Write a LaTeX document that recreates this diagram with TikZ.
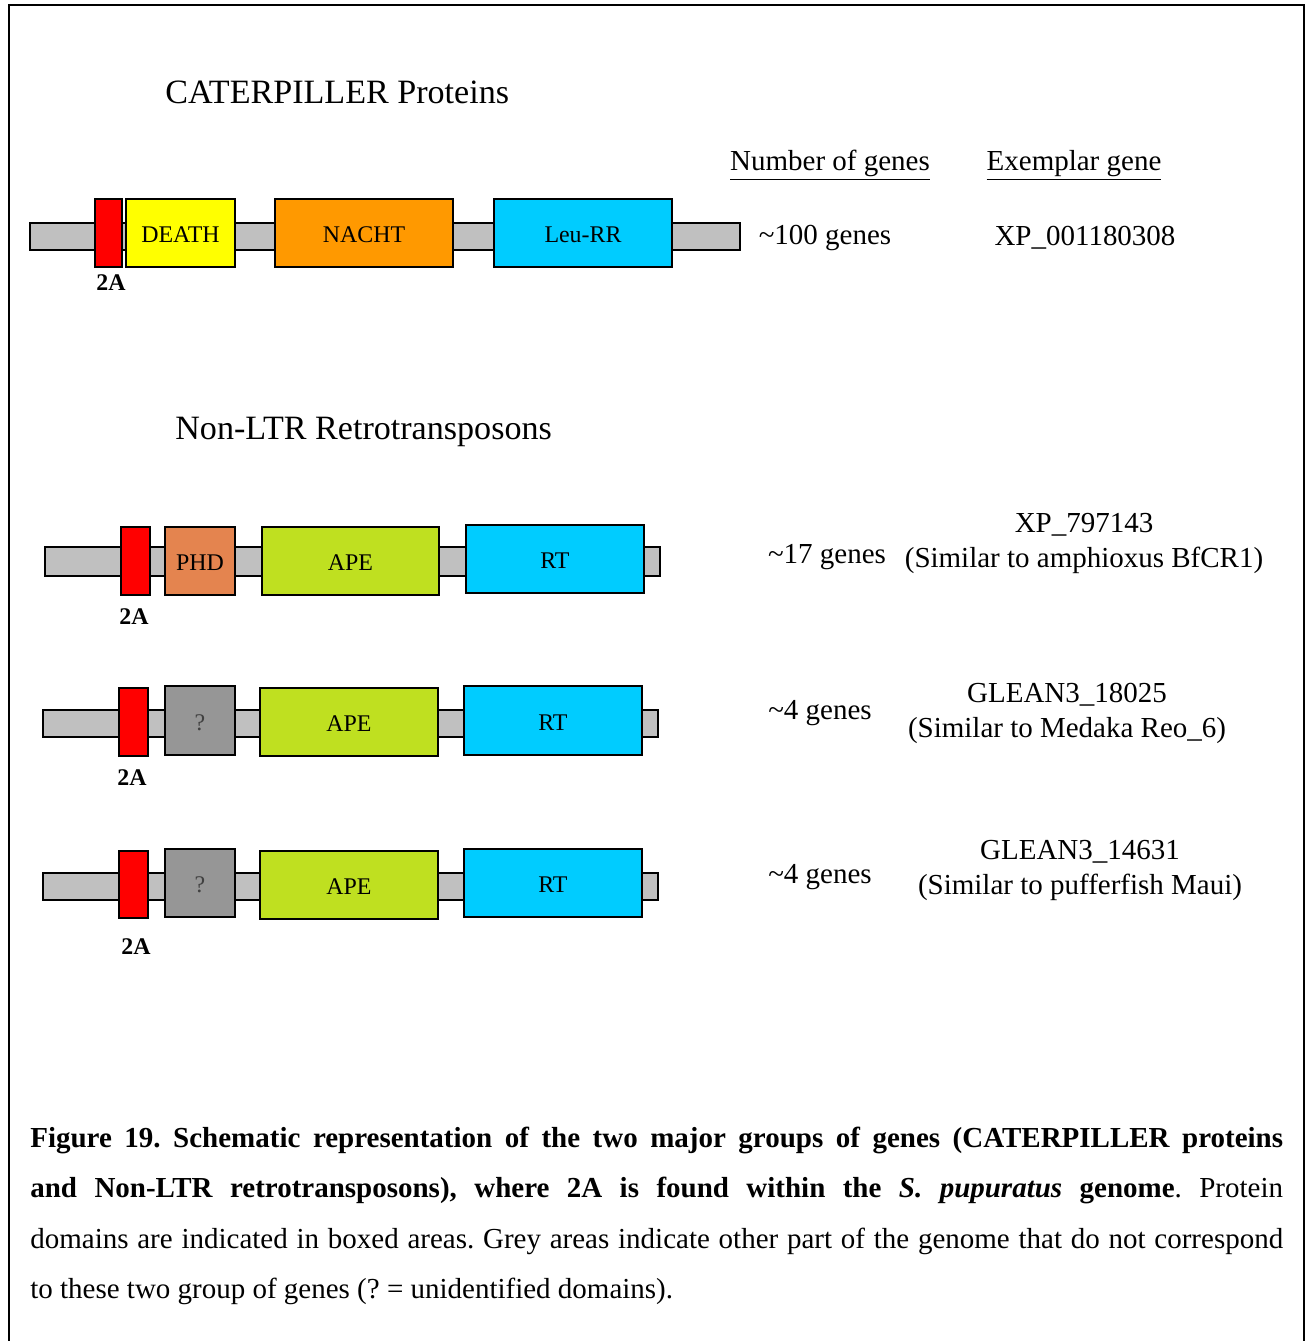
\documentclass[tikz,border=0pt]{standalone}
\usepackage{fontspec}
\setmainfont{Liberation Serif}
\usetikzlibrary{fit}
\definecolor{barg}{HTML}{C0C0C0}
\definecolor{twored}{HTML}{FF0000}
\definecolor{deathy}{HTML}{FFFF00}
\definecolor{nachto}{HTML}{FF9900}
\definecolor{cyanb}{HTML}{00CCFF}
\definecolor{phdc}{HTML}{E4844F}
\definecolor{apec}{HTML}{BFE020}
\definecolor{qgrey}{HTML}{969696}
\frenchspacing
\begin{document}
\begin{tikzpicture}[x=0.02cm,y=-0.02cm,
  dom/.style={draw=black, line width=1.1pt, inner sep=0pt},
  domlabel/.style={anchor=center, inner sep=0pt, yshift=-0.04cm, font=\fontsize{13.6}{16}\selectfont},
  qlabel/.style={domlabel, text=black!75},
  genebar/.style={draw=black, line width=1.1pt, fill=barg, inner sep=0pt},
  twoA/.style={anchor=base, font=\fontsize{13.6}{16}\selectfont\bfseries, inner sep=0pt},
  heading/.style={anchor=base west, font=\fontsize{19.4}{23}\selectfont, inner sep=0pt},
  rtext/.style={anchor=base, font=\fontsize{16.5}{20}\selectfont, inner sep=0pt},
  captxt/.style={anchor=base west, font=\fontsize{16.5}{20}\selectfont, inner sep=0pt}]
\useasboundingbox (0,0) rectangle (1311,1341);
\fill[white] (0,0) rectangle (1311,1341);
\draw[line width=1.5pt] (9,1341) -- (9,5) -- (1304,5) -- (1304,1341);

% headings
\node[heading] (h1) at (165,104) {CATERPILLER Proteins};
\node[heading] (h2) at (175,439) {Non-LTR Retrotransposons};
\node[rtext] (ng) at (830,171) {\underline{Number of genes}};
\node[rtext] (eg) at (1074,171) {\underline{Exemplar gene}};

% row 1
\node[genebar, fit={(30,223) (740,250)}] (bar1) {};
\node[dom, fill=twored, fit={(95,199) (122,267)}] (r1a) {};
\node[dom, fill=deathy, fit={(126,199) (235,267)}] (r1b) {};
\node[dom, fill=nachto, fit={(275,199) (453,267)}] (r1c) {};
\node[dom, fill=cyanb, fit={(494,199) (672,267)}] (r1d) {};
\node[domlabel] (t1b) at (r1b.center) {DEATH};
\node[domlabel] (t1c) at (r1c.center) {NACHT};
\node[domlabel] (t1d) at (r1d.center) {Leu-RR};
\node[twoA] (l1) at (111,291) {2A};
\node[rtext] (n1) at (825,245) {\textasciitilde100 genes};
\node[rtext] (e1) at (1085,246) {XP\_001180308};

% row 2
\node[genebar, fit={(45,547) (660,576)}] (bar2) {};
\node[dom, fill=twored, fit={(121,527) (150,595)}] (r2a) {};
\node[dom, fill=phdc, fit={(165,527) (235,595)}] (r2b) {};
\node[dom, fill=apec, fit={(262,527) (439,595)}] (r2c) {};
\node[dom, fill=cyanb, fit={(466,525) (644,593)}] (r2d) {};
\node[domlabel] (t2b) at (r2b.center) {PHD};
\node[domlabel] (t2c) at (r2c.center) {APE};
\node[domlabel] (t2d) at (r2d.center) {RT};
\node[twoA] (l2) at (134,624) {2A};
\node[rtext] (n2) at (827,563) {\textasciitilde17 genes};
\node[rtext] (e2a) at (1084,532) {XP\_797143};
\node[rtext] (e2b) at (1084,567) {(Similar to amphioxus BfCR1)};

% row 3
\node[genebar, fit={(43,710) (658,737)}] (bar3) {};
\node[dom, fill=twored, fit={(119,688) (148,756)}] (r3a) {};
\node[dom, fill=qgrey, fit={(165,686) (235,755)}] (r3b) {};
\node[dom, fill=apec, fit={(260,688) (438,756)}] (r3c) {};
\node[dom, fill=cyanb, fit={(464,686) (642,755)}] (r3d) {};
\node[qlabel] (t3b) at (r3b.center) {?};
\node[domlabel] (t3c) at (r3c.center) {APE};
\node[domlabel] (t3d) at (r3d.center) {RT};
\node[twoA] (l3) at (132,785) {2A};
\node[rtext] (n3) at (820,719) {\textasciitilde4 genes};
\node[rtext] (e3a) at (1067,702) {GLEAN3\_18025};
\node[rtext] (e3b) at (1067,737) {(Similar to Medaka Reo\_6)};

% row 4
\node[genebar, fit={(43,873) (658,900)}] (bar4) {};
\node[dom, fill=twored, fit={(119,851) (148,918)}] (r4a) {};
\node[dom, fill=qgrey, fit={(165,849) (235,917)}] (r4b) {};
\node[dom, fill=apec, fit={(260,851) (438,919)}] (r4c) {};
\node[dom, fill=cyanb, fit={(464,849) (642,917)}] (r4d) {};
\node[qlabel] (t4b) at (r4b.center) {?};
\node[domlabel] (t4c) at (r4c.center) {APE};
\node[domlabel] (t4d) at (r4d.center) {RT};
\node[twoA] (l4) at (136,954) {2A};
\node[rtext] (n4) at (820,883) {\textasciitilde4 genes};
\node[rtext] (e4a) at (1080,859) {GLEAN3\_14631};
\node[rtext] (e4b) at (1080,894) {(Similar to pufferfish Maui)};

% caption
\node[captxt] (c1) at (30,1147) {\makebox[25.06cm][s]{\bfseries Figure 19. Schematic representation of the two major groups of genes (CATERPILLER proteins}};
\node[captxt] (c2) at (30,1197) {\makebox[25.06cm][s]{\bfseries and Non-LTR retrotransposons), where 2A is found within the \textit{S. pupuratus} genome\mdseries. Protein}};
\node[captxt] (c3) at (30,1248) {\makebox[25.06cm][s]{domains are indicated in boxed areas. Grey areas indicate other part of the genome that do not correspond}};
\node[captxt] (c4) at (30,1298) {to these two group of genes (? = unidentified domains).};
\end{tikzpicture}
\end{document}
